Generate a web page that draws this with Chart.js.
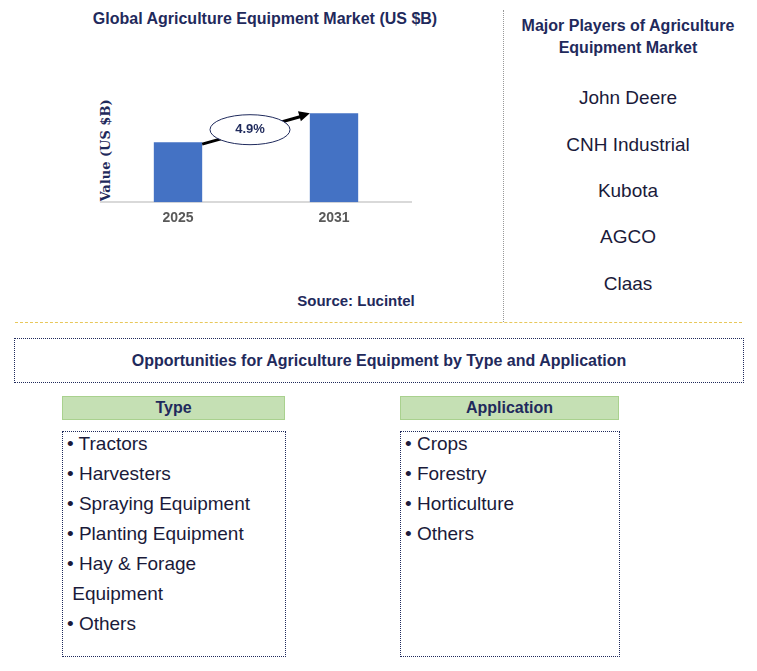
<!DOCTYPE html>
<html><head><meta charset="utf-8">
<script src="https://cdn.jsdelivr.net/npm/chart.js@4"></script>
<style>
body{margin:0;width:757px;height:671px;position:relative;font-family:Arial,"Liberation Sans",sans-serif;background:#fff;overflow:hidden}
.a{position:absolute}
.navy{color:#1f2a5c;font-weight:bold}
.player{position:absolute;left:503px;width:250px;text-align:center;font-size:19px;color:#1a1a3a}
.hdr{position:absolute;background:#c5e0b4;border:1px solid #a9d18e;text-align:center;font-size:16px;font-weight:bold;color:#1f2a5c;line-height:22px;height:22px}
.box{position:absolute;border:1px dotted #1f2a5c;font-size:19px;color:#1a1a3a;line-height:30px;padding:0 4px}
.box div{margin-top:-3px}
</style></head><body>
<div class="a navy" style="left:55px;top:10px;width:420px;text-align:center;font-size:16px">Global Agriculture Equipment Market (US $B)</div>
<div class="a navy" style="left:50px;top:143px;width:110px;text-align:center;font-size:13px;transform:rotate(-90deg);font-family:'DejaVu Serif',serif">Value (US $B)</div>
<canvas id="c" class="a" style="left:100px;top:95px;width:312px;height:140px"></canvas>
<div class="a navy" style="left:276px;top:292px;width:160px;text-align:center;font-size:15px">Source: Lucintel</div>
<div class="a" style="left:503px;top:10px;height:312px;border-left:1px dotted #999"></div>
<div class="a navy" style="left:503px;top:15px;width:250px;text-align:center;font-size:16px;line-height:22px">Major Players of Agriculture<br>Equipment Market</div>
<div class="player" style="top:87px">John Deere</div>
<div class="player" style="top:134px">CNH Industrial</div>
<div class="player" style="top:180px">Kubota</div>
<div class="player" style="top:226px">AGCO</div>
<div class="player" style="top:273px">Claas</div>
<div class="a" style="left:15px;top:322px;width:727px;border-top:1px dashed #e8c85a"></div>
<div class="a navy" style="left:14px;top:338px;width:728px;height:43px;border:1px dotted #1f2a5c;text-align:center;line-height:43px;font-size:16px">Opportunities for Agriculture Equipment by Type and Application</div>
<div class="hdr" style="left:62px;top:396px;width:221px">Type</div>
<div class="box" style="left:62px;top:431px;width:214px;height:224px"><div id="typeBox"></div></div>
<div class="hdr" style="left:400px;top:396px;width:217px">Application</div>
<div class="box" style="left:400px;top:431px;width:210px;height:224px"><div id="appBox"></div></div>
<script>
const years = ['2025', '2031'];
const values = [5.6, 8.3];
const cagr = '4.9%';
const types = ['Tractors', 'Harvesters', 'Spraying Equipment', 'Planting Equipment', 'Hay & Forage<br>&nbsp;Equipment', 'Others'];
const apps = ['Crops', 'Forestry', 'Horticulture', 'Others'];

document.getElementById('typeBox').innerHTML = types.map(t => '• ' + t).join('<br>');
document.getElementById('appBox').innerHTML = apps.map(t => '• ' + t).join('<br>');

// flèche + ellipse du TCAC
const cagrPlugin = {
  id: 'cagr',
  afterDatasetsDraw(chart) {
    const ctx = chart.ctx;
    const m = chart.getDatasetMeta(0).data;
    const x1 = m[0].x + m[0].width / 2, y1 = m[0].y + 2;
    const x2 = m[1].x - m[1].width / 2, y2 = m[1].y;
    ctx.save();
    ctx.strokeStyle = '#000'; ctx.lineWidth = 3;
    ctx.beginPath(); ctx.moveTo(x1, y1); ctx.lineTo(x2 - 8, y2 + 3); ctx.stroke();
    const ang = Math.atan2(y2 - y1, x2 - x1);
    ctx.fillStyle = '#000';
    ctx.beginPath();
    ctx.moveTo(x2, y2);
    ctx.lineTo(x2 - 12 * Math.cos(ang - 0.45), y2 - 12 * Math.sin(ang - 0.45));
    ctx.lineTo(x2 - 12 * Math.cos(ang + 0.45), y2 - 12 * Math.sin(ang + 0.45));
    ctx.closePath(); ctx.fill();
    const cx = (x1 + x2) / 2 - 6, cy = (y1 + y2) / 2 + 1;
    ctx.beginPath(); ctx.ellipse(cx, cy, 40, 15, 0, 0, Math.PI * 2);
    ctx.fillStyle = '#fff'; ctx.fill();
    ctx.lineWidth = 1; ctx.strokeStyle = '#1f2a5c'; ctx.stroke();
    ctx.fillStyle = '#1f2a5c'; ctx.font = 'bold 13px Arial';
    ctx.textAlign = 'center'; ctx.textBaseline = 'middle';
    ctx.fillText(cagr, cx, cy);
    ctx.restore();
  }
};

new Chart(document.getElementById('c'), {
  type: 'bar',
  data: { labels: years, datasets: [{ data: values, backgroundColor: '#4472c4', barPercentage: 0.31, categoryPercentage: 1 }] },
  options: {
    responsive: false, animation: false,
    layout: { padding: 0 },
    plugins: { legend: { display: false }, tooltip: { enabled: false } },
    scales: {
      y: { display: false, min: 0, max: 10 },
      x: {
        grid: { display: false, drawTicks: false },
        border: { color: '#d9d9d9', width: 2 },
        ticks: { color: '#595959', font: { size: 14, weight: 'bold' }, padding: 8 }
      }
    }
  },
  plugins: [cagrPlugin]
});
</script>
</body></html>
